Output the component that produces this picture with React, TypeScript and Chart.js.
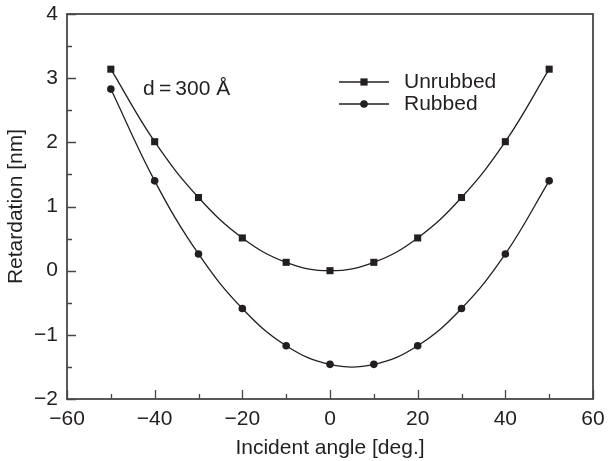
import React, { useEffect, useRef } from "react";
import { Chart, registerables } from "chart.js";

Chart.register(...registerables);

// Incident angle (deg.) and measured retardation (nm)
const angles = [-50, -40, -30, -20, -10, 0, 10, 20, 30, 40, 50];
const unrubbed = [3.14, 2.01, 1.14, 0.51, 0.13, 0.0, 0.13, 0.51, 1.14, 2.01, 3.14];
const rubbed = [2.83, 1.4, 0.26, -0.59, -1.17, -1.46, -1.46, -1.17, -0.59, 0.26, 1.4];

const seriesNames = ["Unrubbed", "Rubbed"];
const xTitle = "Incident angle [deg.]";
const yTitle = "Retardation [nm]";
const note = "d\u2009=\u2009300 Å";

const FONT = "'Liberation Sans', Arial, Helvetica, sans-serif";
const FONT_SIZE = 21;
const INK = "#231f20";
const AXIS = "#474747";

const minus = (v: number) => (v < 0 ? "\u2212" + Math.abs(v) : String(v));

const framePlugin = {
  id: "frameAndLegend",
  afterDraw(chart: any) {
    const { ctx, chartArea } = chart;
    const { left, top, right, bottom } = chartArea;
    const xs = chart.scales.x;
    const ys = chart.scales.y;
    ctx.save();
    // box around the plot
    ctx.strokeStyle = AXIS;
    ctx.lineWidth = 1.8;
    ctx.strokeRect(left, top, right - left, bottom - top);
    // inward tick marks on the bottom and left axes
    ctx.lineWidth = 1.3;
    ctx.beginPath();
    for (let v = xs.min; v <= xs.max; v += 10) {
      const px = Math.round(xs.getPixelForValue(v)) + 0.5;
      const len = v % 20 === 0 ? 9 : 5;
      ctx.moveTo(px, bottom);
      ctx.lineTo(px, bottom - len);
    }
    for (let v = ys.min; v <= ys.max; v += 0.5) {
      const py = Math.round(ys.getPixelForValue(v)) + 0.5;
      const len = Number.isInteger(v) ? 9 : 5;
      ctx.moveTo(left, py);
      ctx.lineTo(left + len, py);
    }
    ctx.stroke();

    // annotation
    ctx.fillStyle = INK;
    ctx.font = `${FONT_SIZE}px ${FONT}`;
    ctx.textBaseline = "middle";
    ctx.textAlign = "left";
    ctx.fillText(note, left + 76, top + 75);

    // legend
    const lx0 = left + 272;
    const lx1 = left + 322;
    const rows = [top + 68, top + 90];
    rows.forEach((y, i) => {
      ctx.strokeStyle = INK;
      ctx.lineWidth = 1.3;
      ctx.beginPath();
      ctx.moveTo(lx0, y);
      ctx.lineTo(lx1, y);
      ctx.stroke();
      const mx = (lx0 + lx1) / 2;
      ctx.fillStyle = INK;
      if (i === 0) {
        ctx.fillRect(mx - 3.6, y - 3.6, 7.2, 7.2);
      } else {
        ctx.beginPath();
        ctx.arc(mx, y, 3.8, 0, Math.PI * 2);
        ctx.fill();
      }
      ctx.fillText(seriesNames[i], lx1 + 15, y);
    });
    ctx.restore();
  },
};

export default function App() {
  const ref = useRef<HTMLCanvasElement>(null);

  useEffect(() => {
    document.body.style.margin = "0";
    const canvas = ref.current;
    if (!canvas) return;
    const toPoints = (ys: number[]) => angles.map((x, i) => ({ x, y: ys[i] }));
    const tickFont = { family: FONT, size: FONT_SIZE };
    const chart = new Chart(canvas, {
      type: "line",
      data: {
        datasets: [
          {
            label: seriesNames[0],
            data: toPoints(unrubbed),
            borderColor: INK,
            backgroundColor: INK,
            borderWidth: 1.3,
            pointStyle: "rect",
            pointRadius: 5,
            pointBorderWidth: 0,
            tension: 0.4,
          },
          {
            label: seriesNames[1],
            data: toPoints(rubbed),
            borderColor: INK,
            backgroundColor: INK,
            borderWidth: 1.3,
            pointStyle: "circle",
            pointRadius: 3.8,
            pointBorderWidth: 0,
            tension: 0.4,
          },
        ],
      },
      options: {
        responsive: false,
        animation: false,
        events: [],
        layout: { padding: { top: 14, right: 16, left: 0, bottom: 0 } },
        plugins: { legend: { display: false }, tooltip: { enabled: false } },
        scales: {
          x: {
            type: "linear",
            min: -60,
            max: 60,
            grid: { display: false, drawTicks: false },
            border: { display: false },
            ticks: {
              stepSize: 20,
              color: INK,
              font: tickFont,
              padding: 8,
              maxRotation: 0,
              callback: (v: any) => minus(Number(v)),
            },
            title: {
              display: true,
              text: xTitle,
              color: INK,
              font: tickFont,
              padding: { top: 0, bottom: 0 },
            },
            afterFit: (s: any) => {
              s.height = 62;
              s.paddingLeft = 0;
              s.paddingRight = 0;
            },
          },
          y: {
            min: -2,
            max: 4,
            grid: { display: false, drawTicks: false },
            border: { display: false },
            ticks: {
              stepSize: 1,
              color: INK,
              font: tickFont,
              padding: 9,
              callback: (v: any) => minus(Number(v)),
            },
            title: {
              display: true,
              text: yTitle,
              color: INK,
              font: tickFont,
              padding: { top: 4, bottom: 0 },
            },
            afterFit: (s: any) => {
              s.width = 67;
              s.paddingTop = 0;
              s.paddingBottom = 0;
            },
          },
        },
      },
      plugins: [framePlugin],
    });
    return () => chart.destroy();
  }, []);

  return (
    <div style={{ width: 609, height: 461 }}>
      <canvas ref={ref} width={609} height={461} />
    </div>
  );
}
